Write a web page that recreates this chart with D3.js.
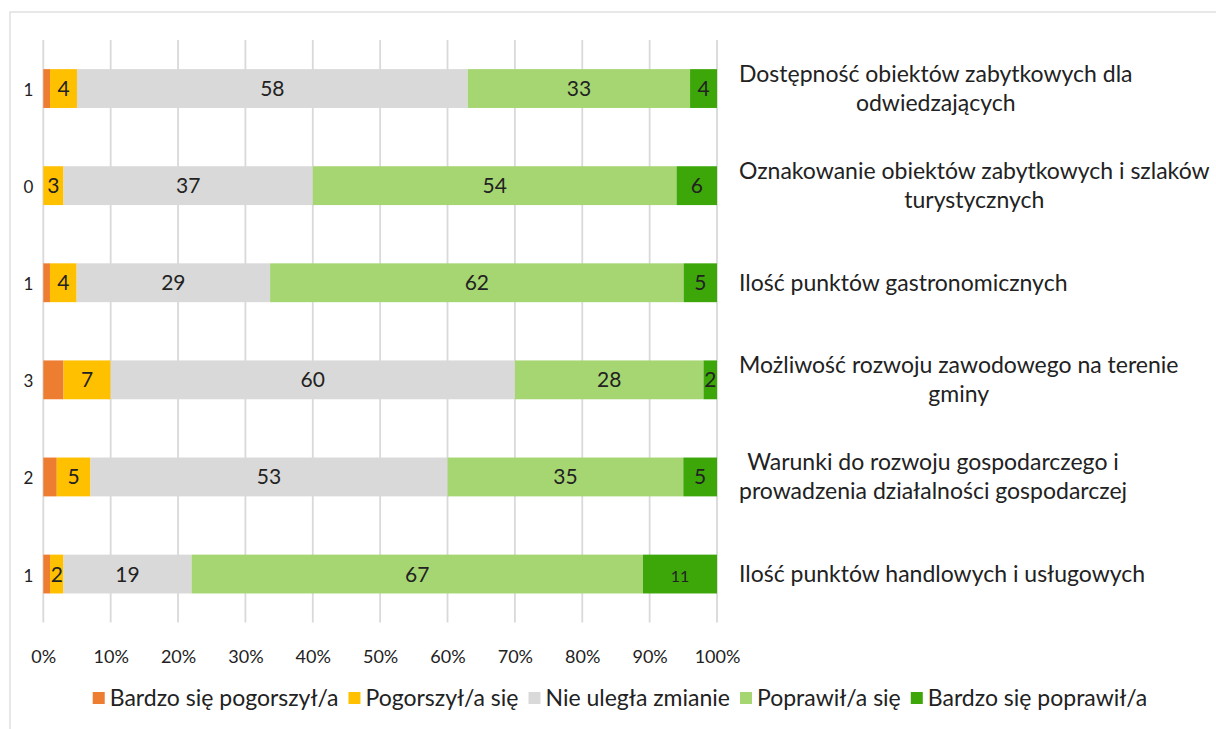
<!DOCTYPE html>
<html>
  <head>
    <meta charset="utf-8">
    <title>Ocena zmian w gminie</title>
    <style>
      body { margin: 0; background: #fff; }
      text { font-family: Lato, "Open Sans", sans-serif; fill: #222; }
    </style>
  </head>
  <body>
    <div id="chart"></div>
  </body>
  <script src="https://d3js.org/d3.v7.min.js"></script>
  <script>

    // categories, top to bottom
    let categories = [
      "Dostępność obiektów zabytkowych dla\nodwiedzających",
      "Oznakowanie obiektów zabytkowych i szlaków\nturystycznych",
      "Ilość punktów gastronomicznych",
      "Możliwość rozwoju zawodowego na terenie\ngminy",
      "Warunki do rozwoju gospodarczego i\nprowadzenia działalności gospodarczej",
      "Ilość punktów handlowych i usługowych"
    ];

    let seriesNames = ["Bardzo się pogorszył/a", "Pogorszył/a się", "Nie uległa zmianie", "Poprawił/a się", "Bardzo się poprawił/a"];
    let colors = ["#ED7D31", "#FFC000", "#D9D9D9", "#A6D672", "#3DA70A"];

    // percentages per series (same order as categories)
    let bardzoGorzej = [1, 0, 1, 3, 2, 1];
    let gorzej       = [4, 3, 4, 7, 5, 2];
    let bezZmian     = [58, 37, 29, 60, 53, 19];
    let lepiej       = [33, 54, 62, 28, 35, 67];
    let bardzoLepiej = [4, 6, 5, 2, 5, 11];

    let tickValues = [0, 0.1, 0.2, 0.3, 0.4, 0.5, 0.6, 0.7, 0.8, 0.9, 1];

    let width = 1216, height = 729;
    let plot = {left: 43.3, right: 717, top: 40, bottom: 622.6};

    let svg = d3.select("#chart").append("svg")
      .attr("width", width)
      .attr("height", height);

    // outer frame
    svg.append("rect")
      .attr("x", 10).attr("y", 12)
      .attr("width", 1230).attr("height", 740)
      .attr("fill", "none")
      .attr("stroke", "#D9D9D9")
      .attr("stroke-width", 1.2);

    let seriesData = [bardzoGorzej, gorzej, bezZmian, lepiej, bardzoLepiej];
    let rows = categories.map(function(c, i) {
      let r = {category: c};
      seriesNames.forEach(function(s, j) { r[s] = seriesData[j][i]; });
      return r;
    });

    let stacked = d3.stack()
      .keys(seriesNames)
      .offset(d3.stackOffsetExpand)(rows);

    let xScale = d3.scaleLinear().domain([0, 1]).range([plot.left, plot.right]);
    let yScale = d3.scaleBand()
      .domain(categories)
      .range([plot.top, plot.bottom])
      .paddingInner(0.6)
      .paddingOuter(0.3);

    // gridlines
    svg.append("g")
      .selectAll("line")
      .data(tickValues)
      .enter().append("line")
      .attr("x1", function(d) { return xScale(d); })
      .attr("x2", function(d) { return xScale(d); })
      .attr("y1", plot.top)
      .attr("y2", plot.bottom)
      .attr("stroke", "#D9D9D9")
      .attr("stroke-width", 1.8);

    // x axis
    let xAxis = svg.append("g")
      .attr("transform", "translate(0," + plot.bottom + ")")
      .call(d3.axisBottom(xScale).tickValues(tickValues).tickFormat(d3.format(".0%")).tickSize(0).tickPadding(0));
    xAxis.select(".domain").remove();
    xAxis.selectAll("text")
      .attr("y", 40)
      .attr("dy", 0)
      .style("font-family", "Lato, sans-serif")
      .style("font-size", "18px")
      .style("fill", "#222");

    // bars
    let layers = svg.append("g").selectAll("g")
      .data(stacked)
      .enter().append("g")
      .attr("fill", function(d, i) { return colors[i]; });

    layers.selectAll("rect")
      .data(function(d) { return d; })
      .enter().append("rect")
      .attr("x", function(d) { return xScale(d[0]); })
      .attr("width", function(d) { return xScale(d[1]) - xScale(d[0]); })
      .attr("y", function(d) { return yScale(d.data.category); })
      .attr("height", yScale.bandwidth());

    // value labels
    layers.each(function(layer, i) {
      d3.select(this).selectAll("text")
        .data(layer)
        .enter().append("text")
        .attr("x", function(d) {
          if (i === 0) return xScale(0) - 10;
          return (xScale(d[0]) + xScale(d[1])) / 2;
        })
        .attr("y", function(d) { return yScale(d.data.category) + yScale.bandwidth() / 2 + 7.5; })
        .attr("text-anchor", i === 0 ? "end" : "middle")
        .style("font-size", function(d) {
          let v = d.data[layer.key];
          if (i === 0) return "17px";
          return (i === 4 && v >= 10) ? "16px" : "21px";
        })
        .text(function(d) { return d.data[layer.key]; });
    });

    // category labels on the right
    let labelX = 739;
    let lineHeight = 29;
    categories.forEach(function(c) {
      let lines = c.split("\n");
      let cy = yScale(c) + yScale.bandwidth() / 2;
      let g = svg.append("g");
      let texts = g.selectAll("text")
        .data(lines)
        .enter().append("text")
        .attr("y", function(d, k) { return cy + (k - (lines.length - 1) / 2) * lineHeight + 8; })
        .attr("text-anchor", "middle")
        .style("font-size", "23px")
        .text(function(d) { return d; });
      let maxW = d3.max(texts.nodes(), function(n) { return n.getComputedTextLength(); });
      texts.attr("x", labelX + maxW / 2);
    });

    // legend
    let legend = svg.append("g");
    let lx = 0;
    seriesNames.forEach(function(s, i) {
      let item = legend.append("g").attr("transform", "translate(" + lx + ",0)");
      item.append("rect")
        .attr("x", 0).attr("y", -6)
        .attr("width", 12).attr("height", 12)
        .attr("fill", colors[i]);
      let t = item.append("text")
        .attr("x", 17).attr("y", 8)
        .style("font-size", "23px")
        .text(s);
      lx += 17 + t.node().getComputedTextLength() + 10;
    });
    let legendW = lx - 10;
    legend.attr("transform", "translate(" + (620 - legendW / 2) + ",698)");

  </script>
</html>
